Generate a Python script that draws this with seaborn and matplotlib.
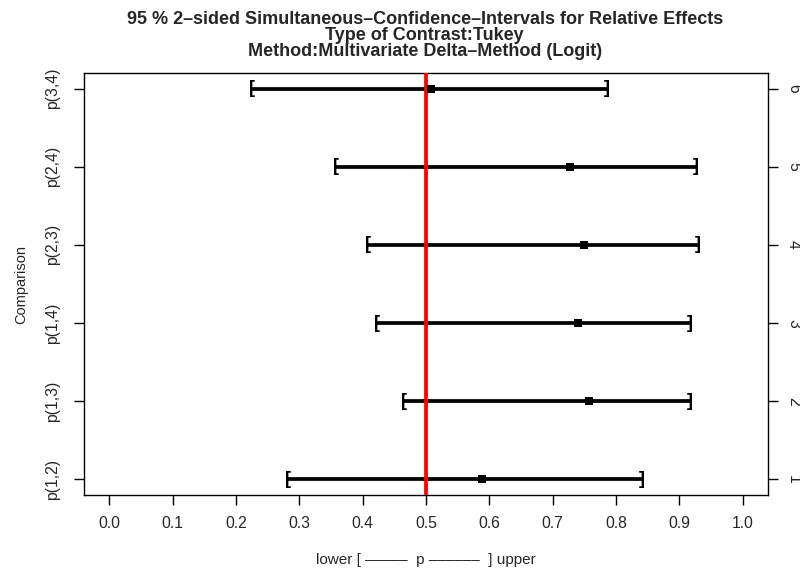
import matplotlib
matplotlib.use("Agg")
import matplotlib.pyplot as plt
import seaborn as sns
import pandas as pd

# Comparisons and their simultaneous confidence intervals (relative effects)
comparisons = ["p(1,2)", "p(1,3)", "p(1,4)", "p(2,3)", "p(2,4)", "p(3,4)"]
estimate = [0.589, 0.758, 0.740, 0.750, 0.727, 0.508]
lower = [0.282, 0.465, 0.422, 0.408, 0.358, 0.225]
upper = [0.841, 0.917, 0.917, 0.929, 0.926, 0.785]
x_ticks = [0.0, 0.1, 0.2, 0.3, 0.4, 0.5, 0.6, 0.7, 0.8, 0.9, 1.0]
null_value = 0.5
title_lines = [
    "95 % 2\u2013sided Simultaneous\u2013Confidence\u2013Intervals for Relative Effects",
    "Type of Contrast:Tukey",
    "Method:Multivariate Delta\u2013Method (Logit)",
]

df = pd.DataFrame({
    "comparison": comparisons,
    "position": list(range(1, len(comparisons) + 1)),
    "estimate": estimate,
    "lower": lower,
    "upper": upper,
})

sns.set_style("ticks")
plt.rcParams["font.family"] = ["Liberation Sans", "DejaVu Sans"]

W, H = 800, 572
fig = plt.figure(figsize=(W / 100, H / 100), dpi=100)
ax = fig.add_axes([0.105, 1 - 495 / H, 0.855, (495 - 73) / H])

# interval lines
ax.hlines(df["position"], df["lower"], df["upper"], color="black", lw=2.7, zorder=2)
# bracket end caps
for _, r in df.iterrows():
    ax.text(r["lower"], r["position"], "[", ha="center", va="center",
            fontsize=13, fontweight="bold", color="black", zorder=3)
    ax.text(r["upper"], r["position"], "]", ha="center", va="center",
            fontsize=13, fontweight="bold", color="black", zorder=3)

# reference line at p = 0.5
ax.axvline(null_value, color="#ff0000", lw=2.7, zorder=3)

# point estimates
sns.scatterplot(data=df, x="estimate", y="position", marker="s", s=26,
                color="black", edgecolor="black", linewidth=0, ax=ax, zorder=4)

ax.set_xlim(-0.04, 1.04)
ax.set_ylim(0.8, 6.2)
ax.set_xticks(x_ticks)
ax.set_xticklabels([f"{v:.1f}" for v in x_ticks], fontsize=11.3)
ax.set_yticks(df["position"])
ax.set_yticklabels(df["comparison"], rotation=90, va="center", fontsize=11.3)
ax.tick_params(axis="x", direction="out", length=7, width=1, color="black", pad=8)
ax.tick_params(axis="y", direction="out", length=7, width=1, color="black", pad=10)

for sp in ax.spines.values():
    sp.set_visible(True)
    sp.set_linewidth(1)
    sp.set_color("black")

ax.set_xlabel("lower [ \u2013\u2013\u2013\u2013\u2013  p \u2013\u2013\u2013\u2013\u2013\u2013  ] upper",
              fontsize=11, labelpad=16)
ax.set_ylabel("Comparison", fontsize=10.5, labelpad=12)

# secondary axis with the comparison index
ax2 = ax.twinx()
ax2.set_ylim(ax.get_ylim())
ax2.set_yticks(df["position"])
ax2.set_yticklabels([str(p) for p in df["position"]], rotation=-90, va="center", fontsize=11.3)
ax2.tick_params(axis="y", direction="out", length=7, width=1, color="black", pad=6)
for sp in ax2.spines.values():
    sp.set_visible(False)

# three-line title, one text per line
for line, ypx in zip(title_lines, [19, 35.5, 52]):
    fig.text(0.531, 1 - ypx / H, line, ha="center", va="center",
             fontsize=13, fontweight="bold")

fig.savefig("out.png", dpi=100)
